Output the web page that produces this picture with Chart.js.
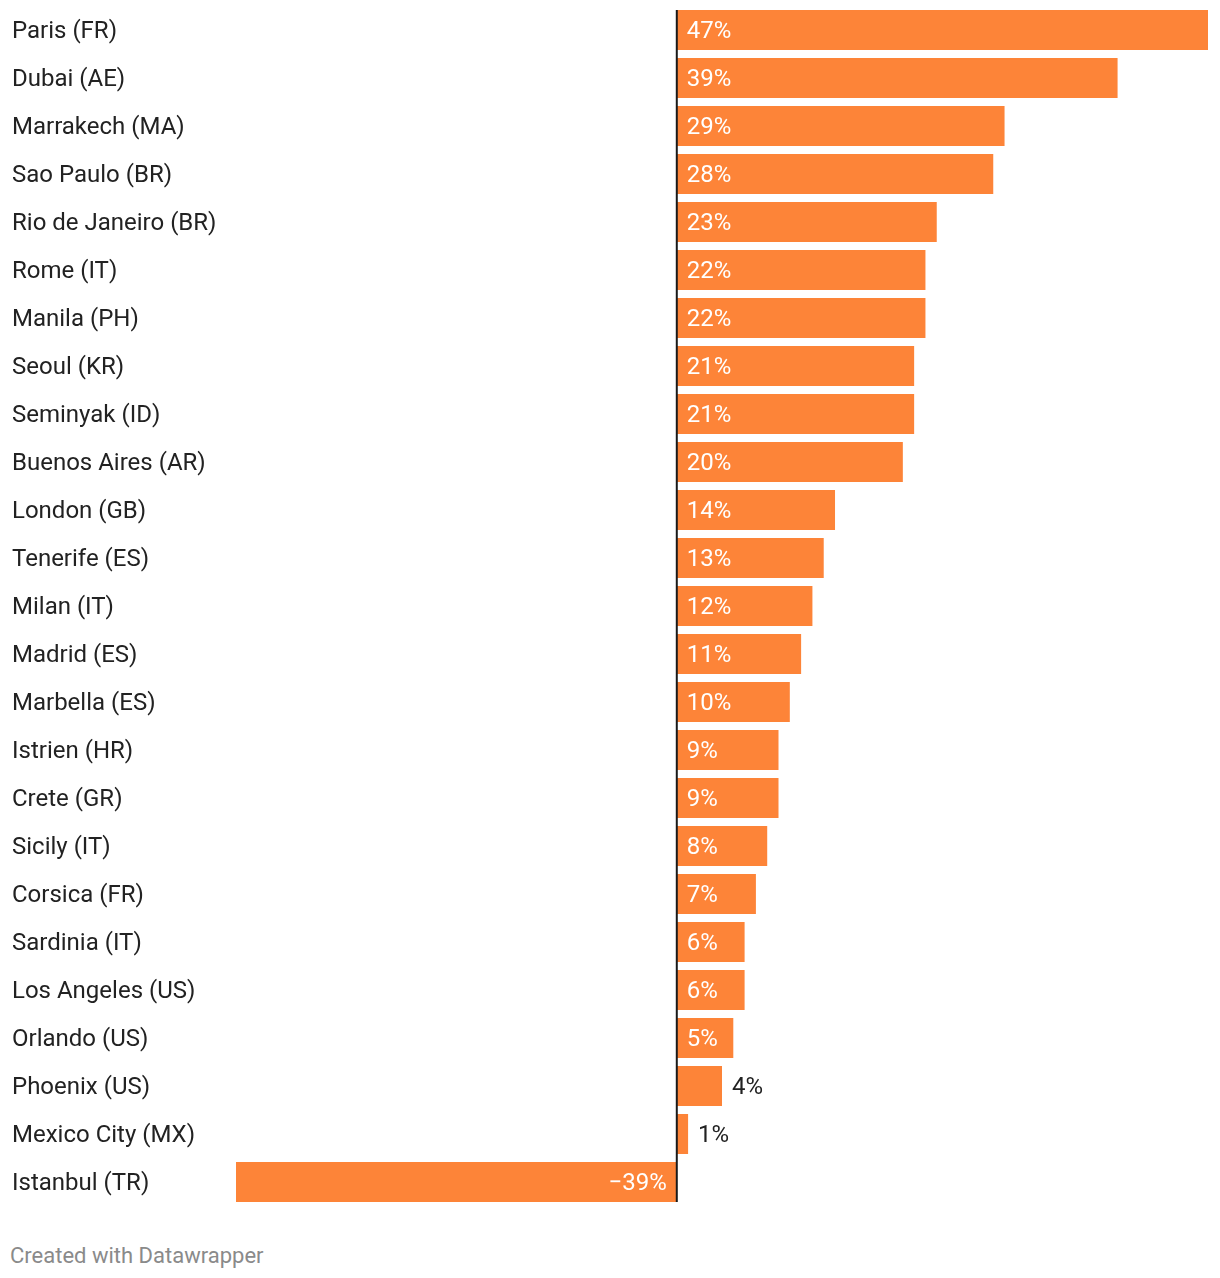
<!DOCTYPE html>
<html lang="en">

<head>
    <meta charset="UTF-8">
    <title>Price change by destination</title>
    <style>
        body {
            margin: 0;
            background: #ffffff;
            font-family: Roboto, 'Noto Sans', sans-serif;
        }

        .container {
            position: relative;
            width: 1220px;
            height: 1212px;
        }

        .footer {
            position: absolute;
            left: 10px;
            top: 1243px;
            font-size: 22px;
            color: #8a8a8a;
        }
    </style>
</head>

<body>

    <div class="container">
        <canvas id="barChart"></canvas>
    </div>
    <div class="footer">Created with Datawrapper</div>

    <script src="https://cdn.jsdelivr.net/npm/chart.js"></script>
    <script>
        const cities = [
            "Paris (FR)", "Dubai (AE)", "Marrakech (MA)", "Sao Paulo (BR)", "Rio de Janeiro (BR)",
            "Rome (IT)", "Manila (PH)", "Seoul (KR)", "Seminyak (ID)", "Buenos Aires (AR)",
            "London (GB)", "Tenerife (ES)", "Milan (IT)", "Madrid (ES)", "Marbella (ES)",
            "Istrien (HR)", "Crete (GR)", "Sicily (IT)", "Corsica (FR)", "Sardinia (IT)",
            "Los Angeles (US)", "Orlando (US)", "Phoenix (US)", "Mexico City (MX)", "Istanbul (TR)"
        ];

        const changes = [
            47, 39, 29, 28, 23,
            22, 22, 21, 21, 20,
            14, 13, 12, 11, 10,
            9, 9, 8, 7, 6,
            6, 5, 4, 1, -39
        ];

        const barColor = '#fd8438';
        const textColor = '#222222';

        // value labels and zero line
        const valueLabels = {
            id: 'valueLabels',
            afterDatasetsDraw(chart) {
                const ctx = chart.ctx;
                const x = chart.scales.x;
                const meta = chart.getDatasetMeta(0);
                const zero = x.getPixelForValue(0);

                ctx.save();
                ctx.font = '24px Roboto';
                ctx.textBaseline = 'middle';
                meta.data.forEach((bar, i) => {
                    const v = changes[i];
                    const txt = (v < 0 ? '\u2212' + Math.abs(v) : v) + '%';
                    const w = ctx.measureText(txt).width;
                    const len = Math.abs(bar.x - zero);
                    if (v < 0) {
                        ctx.fillStyle = '#ffffff';
                        ctx.textAlign = 'right';
                        ctx.fillText(txt, zero - 10, bar.y + 2);
                    } else if (len > w + 20) {
                        ctx.fillStyle = '#ffffff';
                        ctx.textAlign = 'left';
                        ctx.fillText(txt, zero + 10, bar.y + 2);
                    } else {
                        ctx.fillStyle = textColor;
                        ctx.textAlign = 'left';
                        ctx.fillText(txt, bar.x + 10, bar.y + 2);
                    }
                });

                const first = meta.data[0];
                const last = meta.data[meta.data.length - 1];
                ctx.strokeStyle = '#1a1a1a';
                ctx.lineWidth = 2;
                ctx.beginPath();
                ctx.moveTo(zero, first.y - first.height / 2);
                ctx.lineTo(zero, last.y + last.height / 2);
                ctx.stroke();
                ctx.restore();
            }
        };

        const config = {
            type: 'bar',
            data: {
                labels: cities,
                datasets: [{
                    data: changes,
                    backgroundColor: barColor,
                    borderWidth: 0,
                    categoryPercentage: 1,
                    barPercentage: 40 / 48,
                }]
            },
            options: {
                indexAxis: 'y',
                responsive: true,
                maintainAspectRatio: false,
                animation: false,
                layout: {
                    padding: { left: 12, right: 12, top: 6, bottom: 6 }
                },
                plugins: {
                    legend: { display: false },
                    tooltip: { enabled: false }
                },
                scales: {
                    x: {
                        display: false,
                        min: -39,
                        max: 47,
                        grid: { display: false }
                    },
                    y: {
                        grid: { display: false },
                        border: { display: false },
                        ticks: {
                            crossAlign: 'far',
                            color: textColor,
                            padding: 0,
                            labelOffset: 2,
                            font: { family: 'Roboto', size: 24 }
                        },
                        afterFit(scale) {
                            scale.width = 224;
                            scale.paddingTop = 0;
                            scale.paddingBottom = 0;
                        }
                    }
                }
            },
            plugins: [valueLabels]
        };

        const ctx = document.getElementById('barChart').getContext('2d');
        new Chart(ctx, config);
    </script>
</body>

</html>
